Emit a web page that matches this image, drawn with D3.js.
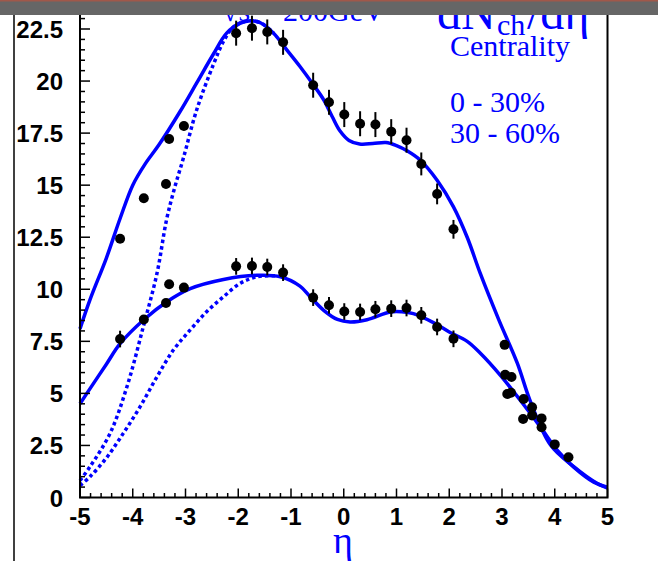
<!DOCTYPE html>
<html>
<head>
<meta charset="utf-8">
<script src="https://cdn.jsdelivr.net/npm/d3@7"></script>
<style>
  html, body { margin: 0; padding: 0; background: #fff; }
  svg { display: block; }
</style>
</head>
<body>
<svg id="chart" width="658" height="561"></svg>
<script>
// Pseudorapidity bins of the measured points
const eta = [-4.24, -3.79, -3.37, -3.31, -3.03, -2.04, -1.74, -1.45, -1.15, -0.58, -0.28, 0.01, 0.31, 0.60, 0.90, 1.19, 1.47, 1.77, 2.08];
// 0 - 30% centrality
const central = [12.43, 14.37, 15.06, 17.22, 17.84, 22.30, 22.54, 22.36, 21.86, 19.80, 18.98, 18.39, 17.95, 17.91, 17.57, 17.16, 16.02, 14.58, 12.88];
const centralErr = [0.2, 0.2, 0.2, 0.2, 0.2, 0.6, 0.6, 0.6, 0.6, 0.6, 0.6, 0.6, 0.6, 0.6, 0.6, 0.6, 0.55, 0.5, 0.45];
// 30 - 60% centrality
const peripheral = [7.61, 8.55, 9.34, 10.24, 10.08, 11.10, 11.12, 11.07, 10.80, 9.60, 9.23, 8.93, 8.91, 9.04, 9.07, 9.10, 8.75, 8.19, 7.62];
const peripheralErr = [0.4, 0.15, 0.15, 0.15, 0.15, 0.4, 0.4, 0.4, 0.4, 0.4, 0.4, 0.4, 0.4, 0.4, 0.4, 0.4, 0.4, 0.4, 0.4];
// Forward-rapidity points
const etaFwdCentral = [3.05, 3.18, 3.41, 3.57, 3.75, 4.00];
const fwdCentral = [7.33, 5.79, 4.73, 4.33, 3.80, 2.55];
const etaFwdPeripheral = [3.06, 3.10, 3.17, 3.40, 3.57, 3.75, 4.26];
const fwdPeripheral = [5.89, 4.97, 5.03, 3.77, 3.94, 3.37, 1.93];

// Model curves: [eta, dN/deta]
const centralCurve = [[-5.0, 8.1], [-4.81, 9.5], [-4.5, 11.5], [-4.24, 13.4], [-4.0, 15.0], [-3.77, 16.0], [-3.5, 16.95], [-3.1, 18.55], [-2.79, 19.9], [-2.47, 21.3], [-2.22, 22.3], [-1.96, 22.78], [-1.77, 22.9], [-1.58, 22.8], [-1.33, 22.3], [-1.08, 21.5], [-0.83, 20.7], [-0.57, 19.8], [-0.38, 19.1], [-0.22, 18.3], [-0.07, 17.6], [0.1, 17.15], [0.3, 16.98], [0.55, 17.0], [0.8, 17.05], [1.0, 16.9], [1.2, 16.65], [1.45, 16.2], [1.77, 15.24], [2.08, 13.96], [2.34, 12.5], [2.59, 10.75], [2.94, 8.53], [3.29, 6.45], [3.54, 4.6], [3.92, 2.52], [4.36, 1.48], [4.8, 0.68], [5.0, 0.45]];
const centralCurveAlt = [[-5.0, 0.82], [-4.81, 1.48], [-4.43, 3.08], [-4.11, 5.32], [-3.80, 8.2], [-3.54, 10.77], [-3.36, 13.33], [-3.2, 14.93], [-3.04, 16.3], [-2.79, 18.6], [-2.47, 20.8], [-2.28, 21.9], [-2.09, 22.6], [-1.84, 22.88], [-1.58, 22.8], [-1.33, 22.3]];
const peripheralCurve = [[-5.0, 4.5], [-4.81, 5.23], [-4.5, 6.4], [-4.24, 7.39], [-3.78, 8.56], [-3.36, 9.39], [-2.91, 10.03], [-2.28, 10.47], [-1.65, 10.67], [-1.2, 10.6], [-0.83, 10.15], [-0.64, 9.65], [-0.38, 8.99], [-0.12, 8.55], [0.12, 8.43], [0.44, 8.54], [0.88, 8.91], [1.1, 8.92], [1.32, 8.83], [1.70, 8.4], [2.0, 7.95], [2.34, 7.5], [2.59, 6.93], [2.97, 5.87], [3.35, 4.66], [3.73, 3.38], [4.05, 2.26], [4.36, 1.46], [4.74, 0.74], [5.0, 0.5]];
const peripheralCurveAlt = [[-5.0, 0.58], [-4.81, 1.0], [-4.5, 1.9], [-4.18, 3.08], [-3.86, 4.36], [-3.54, 5.8], [-3.23, 7.08], [-2.91, 8.05], [-2.6, 8.92], [-2.28, 9.64], [-1.96, 10.29], [-1.65, 10.6], [-1.3, 10.65]];

// Axis ticks
const xTicks = [-5, -4, -3, -2, -1, 0, 1, 2, 3, 4, 5];
const yTicks = [0, 2.5, 5, 7.5, 10, 12.5, 15, 17.5, 20, 22.5];
const legendLabels = ["Centrality", "0 - 30%", "30 - 60%"];

const blue = "#0000ff";
const svg = d3.select("#chart");

const x = d3.scaleLinear().domain([-5, 5]).range([80, 607.5]);
const y = d3.scaleLinear().domain([0, 22.5]).range([497.5, 29]);

// Outer page line on the left
svg.append("line").attr("x1", 14).attr("x2", 14).attr("y1", 10).attr("y2", 561)
  .attr("stroke", "#000").attr("stroke-width", 1.5);

// Curves
const line = d3.line().x(d => x(d[0])).y(d => y(d[1])).curve(d3.curveCatmullRom.alpha(0.5));
const curves = svg.append("g").attr("fill", "none").attr("stroke", blue);
curves.append("path").attr("d", line(centralCurveAlt)).attr("stroke-width", 3.5).attr("stroke-dasharray", "3.5,3");
curves.append("path").attr("d", line(peripheralCurveAlt)).attr("stroke-width", 3.5).attr("stroke-dasharray", "3.5,3");
curves.append("path").attr("d", line(centralCurve)).attr("stroke-width", 3.5);
curves.append("path").attr("d", line(peripheralCurve)).attr("stroke-width", 3.5);

// Data points with error bars
const pts = [];
eta.forEach((e, i) => {
  pts.push({ e, v: central[i], err: centralErr[i] });
  pts.push({ e, v: peripheral[i], err: peripheralErr[i] });
});
etaFwdCentral.forEach((e, i) => pts.push({ e, v: fwdCentral[i], err: 0.15 }));
etaFwdPeripheral.forEach((e, i) => pts.push({ e, v: fwdPeripheral[i], err: 0.15 }));

const gp = svg.append("g");
gp.selectAll("line.err").data(pts).join("line").attr("class", "err")
  .attr("x1", d => x(d.e)).attr("x2", d => x(d.e))
  .attr("y1", d => y(d.v - d.err)).attr("y2", d => y(d.v + d.err))
  .attr("stroke", "#000").attr("stroke-width", 2);
gp.selectAll("circle").data(pts).join("circle")
  .attr("cx", d => x(d.e)).attr("cy", d => y(d.v)).attr("r", 5).attr("fill", "#000");

// Frame
svg.append("rect").attr("x", x(-5)).attr("y", y(23.6)).attr("width", x(5) - x(-5)).attr("height", y(0) - y(23.6))
  .attr("fill", "none").attr("stroke", "#000").attr("stroke-width", 2);

// Y axis (ticks pointing inward)
const yMinor = d3.range(0, 23.01, 0.5);
svg.append("g").selectAll("line").data(yMinor).join("line")
  .attr("x1", x(-5)).attr("x2", d => x(-5) + (yTicks.includes(d) ? 10 : 5))
  .attr("y1", d => y(d)).attr("y2", d => y(d)).attr("stroke", "#000").attr("stroke-width", 1.5);
svg.append("g").selectAll("text").data(yTicks).join("text")
  .attr("x", 63).attr("y", d => y(d) + 9).attr("text-anchor", "end")
  .attr("font-family", "'Liberation Sans', Arial, sans-serif").attr("font-weight", "bold").attr("font-size", 24)
  .text(d => String(d));

// X axis (ticks pointing inward)
const xMinor = d3.range(-5, 5.001, 0.2).map(d => Math.round(d * 10) / 10);
svg.append("g").selectAll("line").data(xMinor).join("line")
  .attr("x1", d => x(d)).attr("x2", d => x(d))
  .attr("y1", y(0)).attr("y2", d => y(0) - (Number.isInteger(d) ? 9 : 4.5))
  .attr("stroke", "#000").attr("stroke-width", 1.5);
svg.append("g").selectAll("text").data(xTicks).join("text")
  .attr("x", d => x(d)).attr("y", 525).attr("text-anchor", "middle")
  .attr("font-family", "'Liberation Sans', Arial, sans-serif").attr("font-weight", "bold").attr("font-size", 24)
  .text(d => String(d));

// Axis title
svg.append("text").attr("x", 343).attr("y", 553).attr("text-anchor", "middle")
  .attr("font-family", "'Liberation Serif', 'Times New Roman', serif").attr("font-size", 38).attr("fill", blue)
  .text("η");

// Legend text
const serif = "'Liberation Serif', 'Times New Roman', serif";
const legendY = [56, 112, 143];
svg.append("g").selectAll("text").data(legendLabels).join("text")
  .attr("x", 450).attr("y", (d, i) => legendY[i])
  .attr("font-family", serif).attr("font-size", 30).attr("fill", blue)
  .text(d => d);

// Title
const title = svg.append("g").attr("font-family", serif).attr("fill", blue);
title.append("text").attr("x", 222).attr("y", 21).attr("font-size", 30).text("√s");
title.append("text").attr("x", 258).attr("y", 21).attr("font-size", 30).text("=");
title.append("text").attr("x", 283).attr("y", 21).attr("font-size", 30).text("200GeV");
title.append("text").attr("x", 437).attr("y", 29).attr("font-size", 48).text("dN");
title.append("text").attr("x", 497).attr("y", 35).attr("font-size", 30).text("ch");
title.append("text").attr("x", 527).attr("y", 29).attr("font-size", 48).text("/dη");

// Window bar across the top
svg.append("rect").attr("x", 0).attr("y", 0).attr("width", 658).attr("height", 15).attr("fill", "#666666");
svg.append("rect").attr("x", 0).attr("y", 0).attr("width", 658).attr("height", 1.5).attr("fill", "#a0584a");
</script>
</body>
</html>
